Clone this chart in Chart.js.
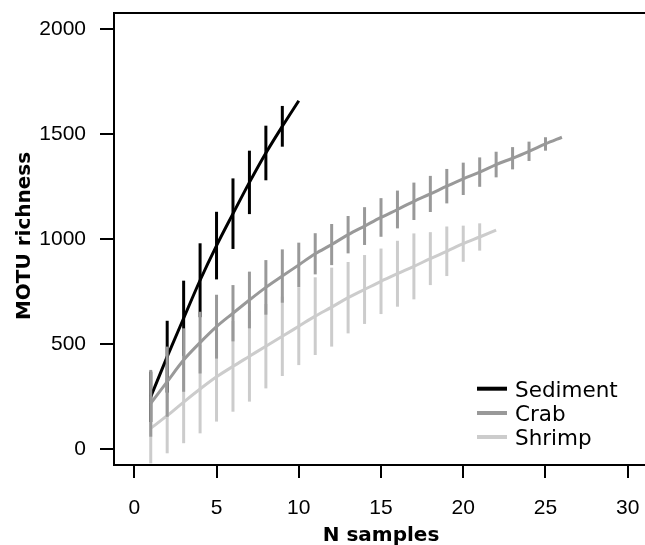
<!DOCTYPE html>
<html>
<head>
<meta charset="utf-8">
<script src="https://cdn.jsdelivr.net/npm/chart.js@4.4.0/dist/chart.umd.min.js"></script>
<style>
html,body{margin:0;padding:0;background:#fff;overflow:hidden;}
#wrap{width:645px;height:545px;position:relative;}
</style>
</head>
<body>
<div id="wrap"><canvas id="c"></canvas></div>
<script>
// ---- data ----
const seriesNames = ['Sediment', 'Crab', 'Shrimp'];

const sedimentN    = [1, 2, 3, 4, 5, 6, 7, 8, 9, 10];
const sedimentMean = [250, 441, 624, 805, 970, 1122, 1271, 1411, 1538, 1660];
const sedimentErr  = [120, 171, 179, 176, 161, 168, 151, 130, 97, 0];

const crabN    = [1, 2, 3, 4, 5, 6, 7, 8, 9, 10, 11, 12, 13, 14, 15, 16, 17, 18, 19, 20, 21, 22, 23, 24, 25, 26];
const crabMean = [219, 322, 425, 508, 584, 648, 711, 771, 825, 878, 931, 975, 1022, 1063, 1104, 1142, 1181, 1216, 1253, 1288, 1320, 1356, 1386, 1419, 1454, 1486];
const crabErr  = [159, 167, 151, 147, 152, 134, 135, 130, 127, 106, 98, 98, 89, 90, 92, 90, 89, 86, 82, 77, 70, 61, 53, 46, 32, 0];

const shrimpN    = [1, 2, 3, 4, 5, 6, 7, 8, 9, 10, 11, 12, 13, 14, 15, 16, 17, 18, 19, 20, 21, 22];
const shrimpMean = [100, 160, 225, 287, 345, 395, 443, 491, 538, 586, 634, 677, 722, 761, 800, 836, 871, 908, 943, 979, 1011, 1044];
const shrimpErr  = [167, 179, 196, 211, 213, 216, 216, 201, 189, 185, 185, 188, 170, 164, 156, 157, 157, 126, 118, 86, 65, 0];

const xTicks = [0, 5, 10, 15, 20, 25, 30];
const yTicks = [0, 500, 1000, 1500, 2000];
const xTitle = 'N samples';
const yTitle = 'MOTU richness';

const seriesColors = ['#000000', '#999999', '#cccccc'];

function toPoints(xs, ys) { return xs.map((x, i) => ({ x: x, y: ys[i] })); }

const FONT = 'DejaVu Sans';
const TICKFONT = 'Liberation Sans';

const errorBars = {
  id: 'errorBars',
  beforeDatasetDraw(chart, args) {
    const ds = chart.data.datasets[args.index];
    const xs = chart.scales.x, ys = chart.scales.y, ctx = chart.ctx, a = chart.chartArea;
    ctx.save();
    ctx.beginPath();
    ctx.rect(a.left, a.top, a.right - a.left, a.bottom - a.top);
    ctx.clip();
    ctx.strokeStyle = ds.borderColor;
    ctx.lineWidth = 3;
    ctx.lineCap = 'butt';
    ds.data.forEach((p, i) => {
      const e = ds.err[i];
      if (!e) return;
      const px = xs.getPixelForValue(p.x);
      ctx.beginPath();
      ctx.moveTo(px, ys.getPixelForValue(p.y - e));
      ctx.lineTo(px, ys.getPixelForValue(p.y + e));
      ctx.stroke();
    });
    ctx.restore();
  }
};

const decorations = {
  id: 'decorations',
  afterDraw(chart) {
    const ctx = chart.ctx, a = chart.chartArea;
    ctx.save();
    // top frame line
    ctx.strokeStyle = '#000';
    ctx.lineWidth = 2;
    ctx.beginPath();
    ctx.moveTo(a.left - 1, a.top);
    ctx.lineTo(a.right, a.top);
    ctx.stroke();

    // axis titles
    ctx.fillStyle = '#000';
    ctx.font = 'bold 20px "' + FONT + '"';
    ctx.textAlign = 'center';
    ctx.textBaseline = 'alphabetic';
    ctx.fillText(xTitle, 381, 541);
    ctx.save();
    ctx.translate(30, 236);
    ctx.rotate(-Math.PI / 2);
    ctx.fillText(yTitle, 0, 0);
    ctx.restore();

    // legend
    const baselines = [396.7, 421, 445];
    ctx.font = '21.5px "' + FONT + '"';
    ctx.textAlign = 'left';
    chart.data.datasets.forEach((ds, i) => {
      const cy = baselines[i] - 8;
      ctx.strokeStyle = ds.borderColor;
      ctx.lineWidth = 4;
      ctx.lineCap = 'butt';
      ctx.beginPath();
      ctx.moveTo(477, cy);
      ctx.lineTo(507, cy);
      ctx.stroke();
      ctx.fillStyle = '#000';
      ctx.fillText(ds.label, 515, baselines[i]);
    });
    ctx.restore();
  }
};

const seriesN = [sedimentN, crabN, shrimpN];
const seriesMean = [sedimentMean, crabMean, shrimpMean];
const seriesErr = [sedimentErr, crabErr, shrimpErr];
const drawOrder = [1, 0, 2]; // crab on top, shrimp at bottom

const datasets = seriesNames.map((name, i) => ({
  label: name,
  data: toPoints(seriesN[i], seriesMean[i]),
  err: seriesErr[i],
  borderColor: seriesColors[i],
  backgroundColor: seriesColors[i],
  borderWidth: 3,
  pointRadius: 0,
  pointHoverRadius: 0,
  fill: false,
  cubicInterpolationMode: 'monotone',
  order: drawOrder[i]
}));

const axisGrid = (len) => ({
  display: true, drawOnChartArea: false, drawTicks: true,
  tickLength: len, color: '#000', lineWidth: 2
});

new Chart(document.getElementById('c'), {
  type: 'line',
  data: { datasets: datasets },
  options: {
    responsive: true,
    maintainAspectRatio: false,
    animation: false,
    events: [],
    layout: { padding: { top: 13, right: 0, left: 0, bottom: 0 } },
    plugins: { legend: { display: false }, tooltip: { enabled: false }, title: { display: false } },
    scales: {
      x: {
        type: 'linear',
        min: -20.3 / 16.447,
        max: 510.7 / 16.447,
        afterBuildTicks: (s) => { s.ticks = xTicks.map(v => ({ value: v })); },
        afterFit: (s) => { s.height = 80; s.paddingLeft = 0; s.paddingRight = 0; },
        grid: axisGrid(13),
        border: { display: true, color: '#000', width: 2 },
        ticks: {
          color: '#000', font: { family: TICKFONT, size: 21 }, padding: 18,
          maxRotation: 0, autoSkip: false, callback: (v) => String(v)
        }
      },
      y: {
        type: 'linear',
        min: (449.3 - 465) / 0.21,
        max: (449.3 - 13) / 0.21,
        afterBuildTicks: (s) => { s.ticks = yTicks.map(v => ({ value: v })); },
        afterFit: (s) => { s.width = 114; s.paddingTop = 0; s.paddingBottom = 0; },
        grid: axisGrid(14),
        border: { display: true, color: '#000', width: 2 },
        ticks: {
          color: '#000', font: { family: TICKFONT, size: 21 }, padding: 14,
          autoSkip: false, callback: (v) => String(v)
        }
      }
    }
  },
  plugins: [errorBars, decorations]
});
</script>
</body>
</html>
